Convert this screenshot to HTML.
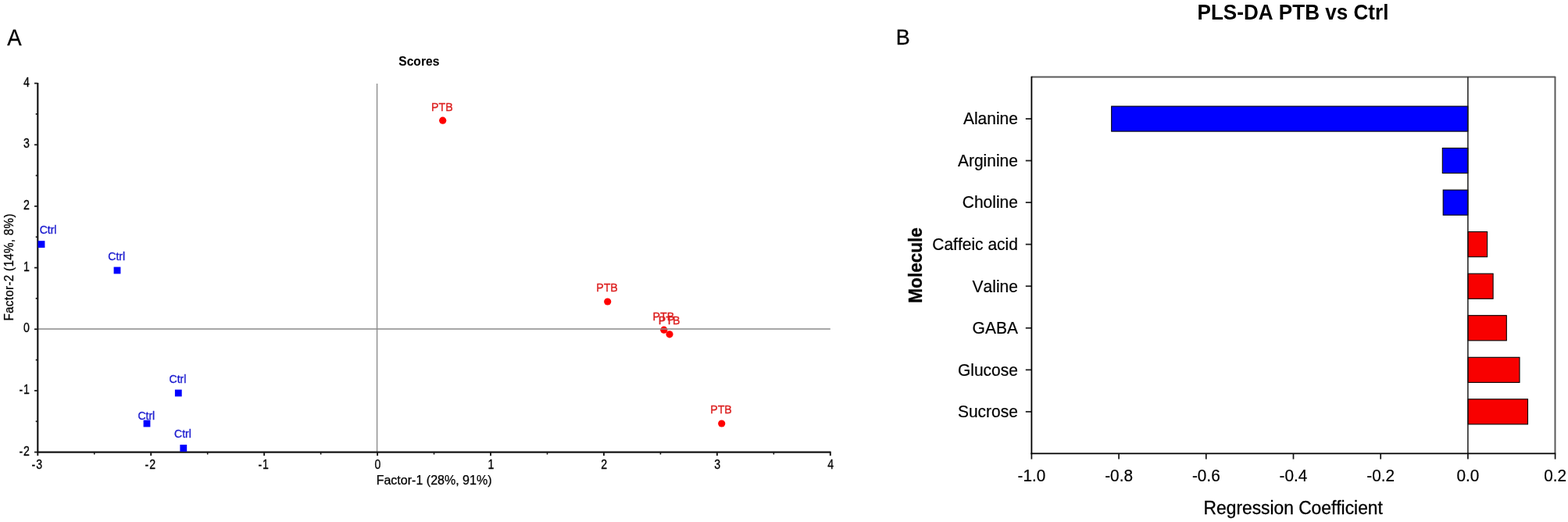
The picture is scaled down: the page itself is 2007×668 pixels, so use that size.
<!DOCTYPE html>
<html lang="en">
<head>
<meta charset="utf-8">
<title>PLS-DA PTB vs Ctrl</title>
<style>
html, body { margin: 0; padding: 0; background: #ffffff; }
body { width: 2007px; height: 668px; overflow: hidden; }
svg { display: block; font-family: "Liberation Sans", sans-serif; font-variant-ligatures: none; font-kerning: none; }
</style>
</head>
<body>
<svg width="2007" height="668" viewBox="0 0 2007 668">
<rect x="0" y="0" width="2007" height="668" fill="#ffffff"/>
<defs><filter id="soft" x="-2%" y="-2%" width="104%" height="104%"><feGaussianBlur stdDeviation="0.55"/></filter></defs>
<text transform="translate(9.20 58.30) scale(0.965 1.060)" font-size="28.5" fill="#000" stroke="#000" stroke-width="0.3" stroke-linejoin="round">A</text>
<g id="panel-a" filter="url(#soft)">
<text transform="translate(536.30 84.20) scale(1.000 1.040)" font-size="15.6" text-anchor="middle" font-weight="bold" fill="#000" stroke="#000" stroke-width="0.1" stroke-linejoin="round">Scores</text>
<line x1="482.59" y1="107.10" x2="482.59" y2="578.60" stroke="#8a8a8a" stroke-width="1.35"/>
<circle cx="566.7" cy="154.2" r="4.6" fill="#ff0000"/>
<circle cx="777.7" cy="386.0" r="4.6" fill="#ff0000"/>
<circle cx="849.8" cy="422.2" r="4.6" fill="#ff0000"/>
<circle cx="857.0" cy="427.8" r="4.6" fill="#ff0000"/>
<circle cx="923.7" cy="542.0" r="4.6" fill="#ff0000"/>
<line x1="48.30" y1="420.97" x2="1062.80" y2="420.97" stroke="#8a8a8a" stroke-width="1.35"/>
<text transform="translate(61.60 299.40)" font-size="14.0" text-anchor="middle" fill="#2020d0" stroke="#2020d0" stroke-width="0.35" stroke-linejoin="round">Ctrl</text>
<text transform="translate(149.20 333.10)" font-size="14.0" text-anchor="middle" fill="#2020d0" stroke="#2020d0" stroke-width="0.35" stroke-linejoin="round">Ctrl</text>
<text transform="translate(227.50 490.10)" font-size="14.0" text-anchor="middle" fill="#2020d0" stroke="#2020d0" stroke-width="0.35" stroke-linejoin="round">Ctrl</text>
<text transform="translate(187.30 537.20)" font-size="14.0" text-anchor="middle" fill="#2020d0" stroke="#2020d0" stroke-width="0.35" stroke-linejoin="round">Ctrl</text>
<text transform="translate(234.00 559.90)" font-size="14.0" text-anchor="middle" fill="#2020d0" stroke="#2020d0" stroke-width="0.35" stroke-linejoin="round">Ctrl</text>
<text transform="translate(565.80 141.70) scale(1.000 1.060)" font-size="14.2" text-anchor="middle" fill="#dc2020" stroke="#dc2020" stroke-width="0.35" stroke-linejoin="round">PTB</text>
<text transform="translate(777.00 373.20) scale(1.000 1.060)" font-size="14.2" text-anchor="middle" fill="#dc2020" stroke="#dc2020" stroke-width="0.35" stroke-linejoin="round">PTB</text>
<text transform="translate(849.40 409.50) scale(1.000 1.060)" font-size="14.2" text-anchor="middle" fill="#dc2020" stroke="#dc2020" stroke-width="0.35" stroke-linejoin="round">PTB</text>
<text transform="translate(856.60 414.50) scale(1.000 1.060)" font-size="14.2" text-anchor="middle" fill="#dc2020" stroke="#dc2020" stroke-width="0.35" stroke-linejoin="round">PTB</text>
<text transform="translate(923.00 529.20) scale(1.000 1.060)" font-size="14.2" text-anchor="middle" fill="#dc2020" stroke="#dc2020" stroke-width="0.35" stroke-linejoin="round">PTB</text>
<line x1="48.30" y1="106.00" x2="48.30" y2="579.70" stroke="#161616" stroke-width="2.2"/>
<line x1="47.20" y1="578.60" x2="1063.60" y2="578.60" stroke="#161616" stroke-width="2.2"/>
<rect x="48.6" y="308.2" width="8.8" height="8.8" fill="#0000ff"/>
<rect x="145.6" y="341.6" width="8.8" height="8.8" fill="#0000ff"/>
<rect x="223.9" y="498.6" width="8.8" height="8.8" fill="#0000ff"/>
<rect x="183.6" y="537.6" width="8.8" height="8.8" fill="#0000ff"/>
<rect x="230.4" y="569.1" width="8.8" height="8.8" fill="#0000ff"/>
<line x1="44.00" y1="106.60" x2="48.30" y2="106.60" stroke="#161616" stroke-width="1.7"/>
<text transform="translate(38.80 110.60) scale(0.900 1.020)" font-size="15.7" text-anchor="end" fill="#000" stroke="#000" stroke-width="0.32" stroke-linejoin="round" letter-spacing="1">4</text>
<line x1="45.70" y1="145.93" x2="48.30" y2="145.93" stroke="#161616" stroke-width="1.7"/>
<line x1="44.00" y1="185.27" x2="48.30" y2="185.27" stroke="#161616" stroke-width="1.7"/>
<text transform="translate(38.80 189.27) scale(0.900 1.020)" font-size="15.7" text-anchor="end" fill="#000" stroke="#000" stroke-width="0.32" stroke-linejoin="round" letter-spacing="1">3</text>
<line x1="45.70" y1="224.60" x2="48.30" y2="224.60" stroke="#161616" stroke-width="1.7"/>
<line x1="44.00" y1="263.93" x2="48.30" y2="263.93" stroke="#161616" stroke-width="1.7"/>
<text transform="translate(38.80 267.93) scale(0.900 1.020)" font-size="15.7" text-anchor="end" fill="#000" stroke="#000" stroke-width="0.32" stroke-linejoin="round" letter-spacing="1">2</text>
<line x1="45.70" y1="303.27" x2="48.30" y2="303.27" stroke="#161616" stroke-width="1.7"/>
<line x1="44.00" y1="342.60" x2="48.30" y2="342.60" stroke="#161616" stroke-width="1.7"/>
<text transform="translate(38.80 346.60) scale(0.900 1.020)" font-size="15.7" text-anchor="end" fill="#000" stroke="#000" stroke-width="0.32" stroke-linejoin="round" letter-spacing="1">1</text>
<line x1="45.70" y1="381.93" x2="48.30" y2="381.93" stroke="#161616" stroke-width="1.7"/>
<line x1="44.00" y1="421.27" x2="48.30" y2="421.27" stroke="#161616" stroke-width="1.7"/>
<text transform="translate(38.80 425.27) scale(0.900 1.020)" font-size="15.7" text-anchor="end" fill="#000" stroke="#000" stroke-width="0.32" stroke-linejoin="round" letter-spacing="1">0</text>
<line x1="45.70" y1="460.60" x2="48.30" y2="460.60" stroke="#161616" stroke-width="1.7"/>
<line x1="44.00" y1="499.93" x2="48.30" y2="499.93" stroke="#161616" stroke-width="1.7"/>
<text transform="translate(38.80 503.93) scale(0.900 1.020)" font-size="15.7" text-anchor="end" fill="#000" stroke="#000" stroke-width="0.32" stroke-linejoin="round" letter-spacing="1">-1</text>
<line x1="45.70" y1="539.27" x2="48.30" y2="539.27" stroke="#161616" stroke-width="1.7"/>
<line x1="44.00" y1="578.60" x2="48.30" y2="578.60" stroke="#161616" stroke-width="1.7"/>
<text transform="translate(38.80 582.60) scale(0.900 1.020)" font-size="15.7" text-anchor="end" fill="#000" stroke="#000" stroke-width="0.32" stroke-linejoin="round" letter-spacing="1">-2</text>
<line x1="48.30" y1="578.60" x2="48.30" y2="583.20" stroke="#161616" stroke-width="1.9"/>
<text transform="translate(47.80 600.00) scale(0.900 1.020)" font-size="15.7" text-anchor="middle" fill="#000" stroke="#000" stroke-width="0.32" stroke-linejoin="round" letter-spacing="1">-3</text>
<line x1="120.76" y1="578.60" x2="120.76" y2="581.60" stroke="#161616" stroke-width="1.6"/>
<line x1="193.23" y1="578.60" x2="193.23" y2="583.20" stroke="#161616" stroke-width="1.9"/>
<text transform="translate(192.73 600.00) scale(0.900 1.020)" font-size="15.7" text-anchor="middle" fill="#000" stroke="#000" stroke-width="0.32" stroke-linejoin="round" letter-spacing="1">-2</text>
<line x1="265.69" y1="578.60" x2="265.69" y2="581.60" stroke="#161616" stroke-width="1.6"/>
<line x1="338.16" y1="578.60" x2="338.16" y2="583.20" stroke="#161616" stroke-width="1.9"/>
<text transform="translate(337.66 600.00) scale(0.900 1.020)" font-size="15.7" text-anchor="middle" fill="#000" stroke="#000" stroke-width="0.32" stroke-linejoin="round" letter-spacing="1">-1</text>
<line x1="410.62" y1="578.60" x2="410.62" y2="581.60" stroke="#161616" stroke-width="1.6"/>
<line x1="483.09" y1="578.60" x2="483.09" y2="583.20" stroke="#161616" stroke-width="1.9"/>
<text transform="translate(483.89 600.00) scale(0.900 1.020)" font-size="15.7" text-anchor="middle" fill="#000" stroke="#000" stroke-width="0.32" stroke-linejoin="round" letter-spacing="1">0</text>
<line x1="555.55" y1="578.60" x2="555.55" y2="581.60" stroke="#161616" stroke-width="1.6"/>
<line x1="628.01" y1="578.60" x2="628.01" y2="583.20" stroke="#161616" stroke-width="1.9"/>
<text transform="translate(628.81 600.00) scale(0.900 1.020)" font-size="15.7" text-anchor="middle" fill="#000" stroke="#000" stroke-width="0.32" stroke-linejoin="round" letter-spacing="1">1</text>
<line x1="700.48" y1="578.60" x2="700.48" y2="581.60" stroke="#161616" stroke-width="1.6"/>
<line x1="772.94" y1="578.60" x2="772.94" y2="583.20" stroke="#161616" stroke-width="1.9"/>
<text transform="translate(773.74 600.00) scale(0.900 1.020)" font-size="15.7" text-anchor="middle" fill="#000" stroke="#000" stroke-width="0.32" stroke-linejoin="round" letter-spacing="1">2</text>
<line x1="845.41" y1="578.60" x2="845.41" y2="581.60" stroke="#161616" stroke-width="1.6"/>
<line x1="917.87" y1="578.60" x2="917.87" y2="583.20" stroke="#161616" stroke-width="1.9"/>
<text transform="translate(918.67 600.00) scale(0.900 1.020)" font-size="15.7" text-anchor="middle" fill="#000" stroke="#000" stroke-width="0.32" stroke-linejoin="round" letter-spacing="1">3</text>
<line x1="990.34" y1="578.60" x2="990.34" y2="581.60" stroke="#161616" stroke-width="1.6"/>
<line x1="1062.80" y1="578.60" x2="1062.80" y2="583.20" stroke="#161616" stroke-width="1.9"/>
<text transform="translate(1063.60 600.00) scale(0.900 1.020)" font-size="15.7" text-anchor="middle" fill="#000" stroke="#000" stroke-width="0.32" stroke-linejoin="round" letter-spacing="1">4</text>
<text transform="translate(555.60 619.90)" font-size="16.05" text-anchor="middle" fill="#000" stroke="#000" stroke-width="0.25" stroke-linejoin="round">Factor-1 (28%, 91%)</text>
<text transform="translate(17.00 342.00) rotate(-90) scale(1.000 1.040)" font-size="15.2" text-anchor="middle" fill="#000" stroke="#000" stroke-width="0.25" stroke-linejoin="round" textLength="137" lengthAdjust="spacing">Factor-2 (14%, 8%)</text>
</g>
<g id="panel-b">
<text transform="translate(1146.80 56.50) scale(0.980 1.030)" font-size="27.5" fill="#000" stroke="#000" stroke-width="0.3" stroke-linejoin="round">B</text>
<text transform="translate(1655.00 24.50) scale(1.000 1.040)" font-size="26.1" text-anchor="middle" font-weight="bold" fill="#000">PLS-DA PTB vs Ctrl</text>
<rect x="1422.7" y="136.0" width="456.2" height="32.1" fill="#0000ff" stroke="#000" stroke-width="1.1"/>
<line x1="1312.80" y1="152.04" x2="1320.40" y2="152.04" stroke="#222" stroke-width="1.8"/>
<text transform="translate(1302.90 159.34) scale(1.000 1.040)" font-size="21" text-anchor="end" fill="#000" stroke="#000" stroke-width="0.2" stroke-linejoin="round">Alanine</text>
<rect x="1846.3" y="189.5" width="32.6" height="32.1" fill="#0000ff" stroke="#000" stroke-width="1.1"/>
<line x1="1312.80" y1="205.59" x2="1320.40" y2="205.59" stroke="#222" stroke-width="1.8"/>
<text transform="translate(1302.90 212.89) scale(1.000 1.040)" font-size="21" text-anchor="end" fill="#000" stroke="#000" stroke-width="0.2" stroke-linejoin="round">Arginine</text>
<rect x="1847.2" y="243.1" width="31.7" height="32.1" fill="#0000ff" stroke="#000" stroke-width="1.1"/>
<line x1="1312.80" y1="259.13" x2="1320.40" y2="259.13" stroke="#222" stroke-width="1.8"/>
<text transform="translate(1302.90 266.43) scale(1.000 1.040)" font-size="21" text-anchor="end" fill="#000" stroke="#000" stroke-width="0.2" stroke-linejoin="round">Choline</text>
<rect x="1878.9" y="296.6" width="24.7" height="32.1" fill="#f80000" stroke="#000" stroke-width="1.1"/>
<line x1="1312.80" y1="312.68" x2="1320.40" y2="312.68" stroke="#222" stroke-width="1.8"/>
<text transform="translate(1302.90 319.98) scale(1.000 1.040)" font-size="21" text-anchor="end" fill="#000" stroke="#000" stroke-width="0.2" stroke-linejoin="round">Caffeic acid</text>
<rect x="1878.9" y="350.2" width="32.2" height="32.1" fill="#f80000" stroke="#000" stroke-width="1.1"/>
<line x1="1312.80" y1="366.22" x2="1320.40" y2="366.22" stroke="#222" stroke-width="1.8"/>
<text transform="translate(1302.90 373.52) scale(1.000 1.040)" font-size="21" text-anchor="end" fill="#000" stroke="#000" stroke-width="0.2" stroke-linejoin="round">Valine</text>
<rect x="1878.9" y="403.7" width="49.4" height="32.1" fill="#f80000" stroke="#000" stroke-width="1.1"/>
<line x1="1312.80" y1="419.77" x2="1320.40" y2="419.77" stroke="#222" stroke-width="1.8"/>
<text transform="translate(1302.90 427.07) scale(1.000 1.040)" font-size="21" text-anchor="end" fill="#000" stroke="#000" stroke-width="0.2" stroke-linejoin="round">GABA</text>
<rect x="1878.9" y="457.3" width="66.1" height="32.1" fill="#f80000" stroke="#000" stroke-width="1.1"/>
<line x1="1312.80" y1="473.31" x2="1320.40" y2="473.31" stroke="#222" stroke-width="1.8"/>
<text transform="translate(1302.90 480.61) scale(1.000 1.040)" font-size="21" text-anchor="end" fill="#000" stroke="#000" stroke-width="0.2" stroke-linejoin="round">Glucose</text>
<rect x="1878.9" y="510.8" width="76.6" height="32.1" fill="#f80000" stroke="#000" stroke-width="1.1"/>
<line x1="1312.80" y1="526.86" x2="1320.40" y2="526.86" stroke="#222" stroke-width="1.8"/>
<text transform="translate(1302.90 534.16) scale(1.000 1.040)" font-size="21" text-anchor="end" fill="#000" stroke="#000" stroke-width="0.2" stroke-linejoin="round">Sucrose</text>
<line x1="1320.40" y1="98.50" x2="1990.90" y2="98.50" stroke="#5a5a5a" stroke-width="2"/>
<line x1="1990.50" y1="98.10" x2="1990.50" y2="580.40" stroke="#5a5a5a" stroke-width="2"/>
<line x1="1878.90" y1="98.50" x2="1878.90" y2="580.40" stroke="#1c1c1c" stroke-width="1.5"/>
<line x1="1320.40" y1="97.80" x2="1320.40" y2="581.30" stroke="#000" stroke-width="1.8"/>
<line x1="1319.50" y1="580.40" x2="1991.20" y2="580.40" stroke="#000" stroke-width="1.8"/>
<line x1="1320.40" y1="580.40" x2="1320.40" y2="587.60" stroke="#111" stroke-width="1.7"/>
<text transform="translate(1320.40 616.00) scale(1.000 1.030)" font-size="20.8" text-anchor="middle" fill="#000" stroke="#000" stroke-width="0.2" stroke-linejoin="round">-1.0</text>
<line x1="1432.10" y1="580.40" x2="1432.10" y2="587.60" stroke="#111" stroke-width="1.7"/>
<text transform="translate(1432.10 616.00) scale(1.000 1.030)" font-size="20.8" text-anchor="middle" fill="#000" stroke="#000" stroke-width="0.2" stroke-linejoin="round">-0.8</text>
<line x1="1543.80" y1="580.40" x2="1543.80" y2="587.60" stroke="#111" stroke-width="1.7"/>
<text transform="translate(1543.80 616.00) scale(1.000 1.030)" font-size="20.8" text-anchor="middle" fill="#000" stroke="#000" stroke-width="0.2" stroke-linejoin="round">-0.6</text>
<line x1="1655.50" y1="580.40" x2="1655.50" y2="587.60" stroke="#111" stroke-width="1.7"/>
<text transform="translate(1655.50 616.00) scale(1.000 1.030)" font-size="20.8" text-anchor="middle" fill="#000" stroke="#000" stroke-width="0.2" stroke-linejoin="round">-0.4</text>
<line x1="1767.20" y1="580.40" x2="1767.20" y2="587.60" stroke="#111" stroke-width="1.7"/>
<text transform="translate(1767.20 616.00) scale(1.000 1.030)" font-size="20.8" text-anchor="middle" fill="#000" stroke="#000" stroke-width="0.2" stroke-linejoin="round">-0.2</text>
<line x1="1878.90" y1="580.40" x2="1878.90" y2="587.60" stroke="#111" stroke-width="1.7"/>
<text transform="translate(1878.90 616.00) scale(1.000 1.030)" font-size="20.8" text-anchor="middle" fill="#000" stroke="#000" stroke-width="0.2" stroke-linejoin="round">0.0</text>
<line x1="1990.60" y1="580.40" x2="1990.60" y2="587.60" stroke="#111" stroke-width="1.7"/>
<text transform="translate(1990.60 616.00) scale(1.000 1.030)" font-size="20.8" text-anchor="middle" fill="#000" stroke="#000" stroke-width="0.2" stroke-linejoin="round">0.2</text>
<text transform="translate(1655.20 657.80) scale(1.000 1.050)" font-size="22.8" text-anchor="middle" fill="#000" stroke="#000" stroke-width="0.3" stroke-linejoin="round">Regression Coefficient</text>
<text transform="translate(1179.80 339.40) rotate(-90) scale(1.000 1.080)" font-size="22.6" text-anchor="middle" font-weight="bold" fill="#000" stroke="#000" stroke-width="0.3" stroke-linejoin="round">Molecule</text>
</g>
</svg>
</body>
</html>
